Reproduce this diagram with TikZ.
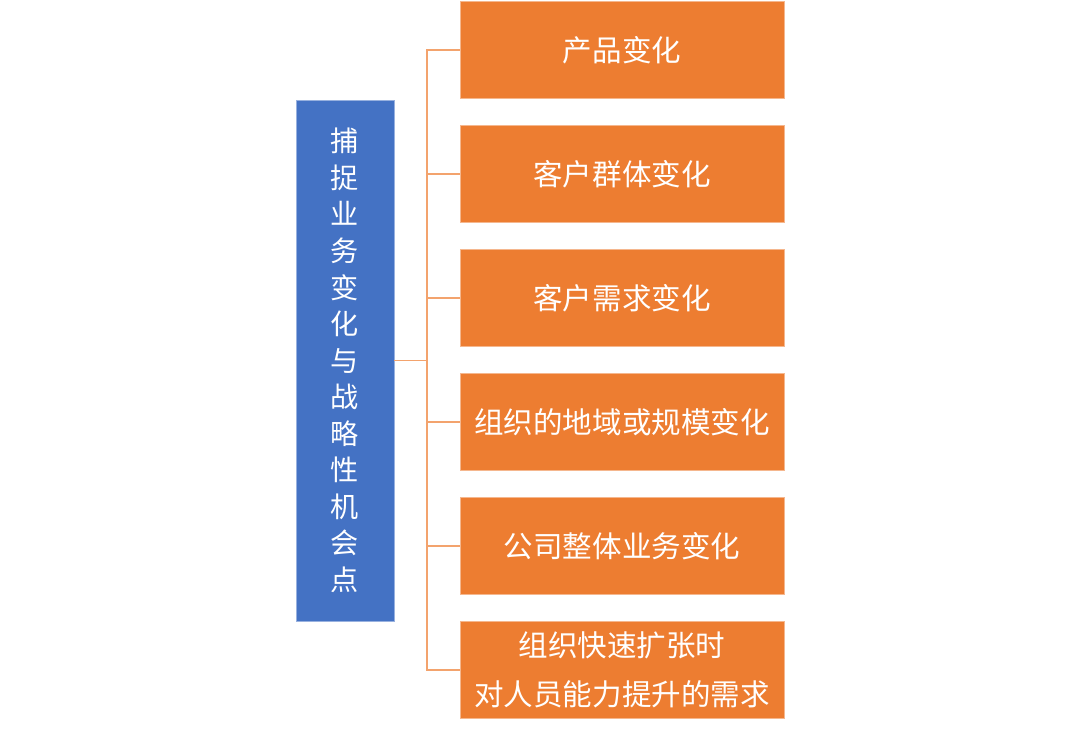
\documentclass[tikz,border=0pt]{standalone}
\usepackage{fontspec}
\usepackage{xcolor}
\usepackage{tikz}
\usetikzlibrary{positioning}
\newfontfamily\cjk{Noto Sans CJK SC}
\definecolor{boxorange}{HTML}{ED7D31}
\definecolor{boxblue}{HTML}{4472C4}
\definecolor{linkorange}{HTML}{F3A36D}

\begin{document}
\begin{tikzpicture}[
  root/.style={
    rectangle,
    draw=white!45!boxblue,
    fill=boxblue,
    minimum width=2.45cm,
    minimum height=13.025cm,
    align=center,
    text=white,
    font=\cjk\fontsize{20}{26}\selectfont
  },
  item/.style={
    rectangle,
    draw=white!45!boxorange,
    fill=boxorange,
    minimum width=8.1cm,
    minimum height=2.425cm,
    align=center,
    text=white,
    font=\cjk\fontsize{21}{35}\selectfont
  },
  link/.style={line width=1.4pt, linkorange}
]
\useasboundingbox (0,0) rectangle (27,18.35);
\node[root] (goal) at (8.625, 9.3375)
  {捕\\捉\\业\\务\\变\\化\\与\\战\\略\\性\\机\\会\\点};
\node[item] (b1) at (15.55, 17.1) {产品变化};
\node[item] (b2) at (15.55, 14.0) {客户群体变化};
\node[item] (b3) at (15.55, 10.9) {客户需求变化};
\node[item] (b4) at (15.55, 7.8)  {组织的地域或规模变化};
\node[item] (b5) at (15.55, 4.7)  {公司整体业务变化};
\node[item] (b6) at (15.55, 1.6)  {组织快速扩张时\\对人员能力提升的需求};
% branches from the left box to each change
\coordinate[right=0.825cm of goal.east] (trunk);
\draw[link] (goal.east) -- (trunk);
\draw[link] (trunk) |- (b1.west);
\draw[link] (trunk) |- (b2.west);
\draw[link] (trunk) |- (b3.west);
\draw[link] (trunk) |- (b4.west);
\draw[link] (trunk) |- (b5.west);
\draw[link] (trunk) |- (b6.west);
\end{tikzpicture}
\end{document}
